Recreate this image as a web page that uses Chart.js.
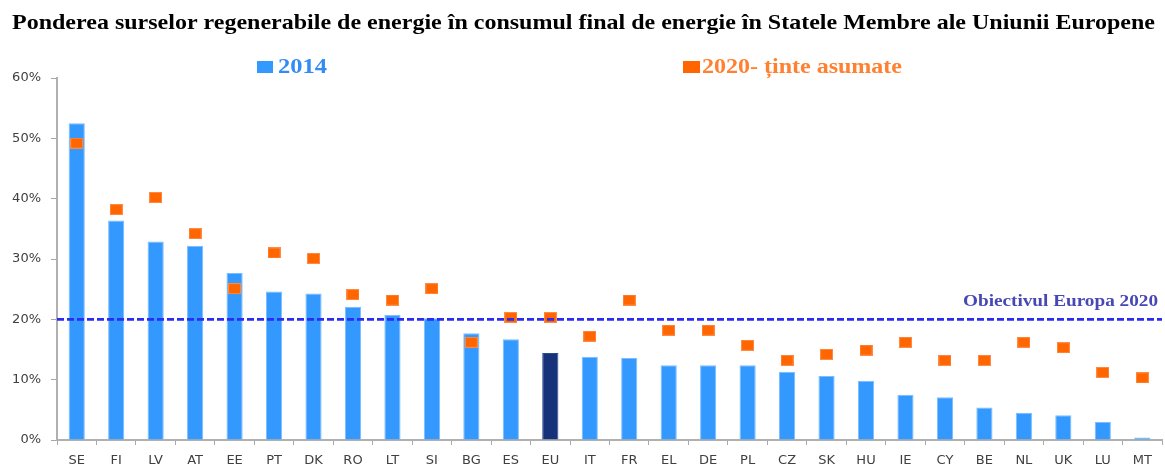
<!DOCTYPE html>
<html lang="ro">
  <head>
    <meta charset="UTF-8" />
    <title>Ponderea surselor regenerabile de energie</title>
    <script src="https://cdn.jsdelivr.net/npm/chart.js"></script>
    <style>
      html,
      body {
        margin: 0;
        padding: 0;
        background: #ffffff;
        overflow: hidden;
      }
      .wrap {
        position: relative;
        width: 1169px;
        height: 472px;
      }
    </style>
  </head>
  <body>
    <div class="wrap">
      <canvas id="chart"></canvas>
    </div>

    <script>
      const countries = ["SE", "FI", "LV", "AT", "EE", "PT", "DK", "RO", "LT", "SI", "BG", "ES", "EU", "IT",
        "FR", "EL", "DE", "PL", "CZ", "SK", "HU", "IE", "CY", "BE", "NL", "UK", "LU", "MT"];
      const share2014 = [52.5, 36.4, 32.9, 32.2, 27.7, 24.6, 24.3, 22.1, 20.7, 20.2, 17.7, 16.7, 14.4, 13.8,
        13.6, 12.4, 12.4, 12.4, 11.3, 10.6, 9.8, 7.5, 7.1, 5.4, 4.5, 4.1, 3.0, 0.4];
      const targets2020 = [49.2, 38.2, 40.2, 34.2, 25.1, 31.0, 30.1, 24.1, 23.2, 25.1, 16.2, 20.3, 20.3, 17.2,
        23.2, 18.2, 18.2, 15.7, 13.2, 14.2, 14.9, 16.2, 13.2, 13.2, 16.2, 15.3, 11.2, 10.3];
      const yTicks = [0, 10, 20, 30, 40, 50, 60];
      const europeTarget = 20;

      const titleText =
        "Ponderea surselor regenerabile de energie în consumul final de energie în Statele Membre ale Uniunii Europene";
      const legend2014 = "2014";
      const legend2020 = "2020- ținte asumate";
      const targetLabel = "Obiectivul Europa 2020";

      const BLUE = "#3399ff";
      const NAVY = "#15327a";
      const ORANGE = "#ff6600";

      // barele: EU in albastru inchis
      const barColors = countries.map((c) => (c === "EU" ? NAVY : BLUE));
      const barBorders = countries.map((c) => (c === "EU" ? "#2a4a90" : "#7cbcff"));

      // marker dreptunghiular pentru tinte
      const marker = document.createElement("canvas");
      marker.width = 13;
      marker.height = 11;
      const mctx = marker.getContext("2d");
      mctx.fillStyle = "#ff8a45";
      mctx.fillRect(0, 0, 13, 11);
      mctx.fillStyle = ORANGE;
      mctx.fillRect(1, 1, 11, 9);

      function stretchText(ctx, text, x, y, width, font, color) {
        ctx.save();
        ctx.font = font;
        const w = ctx.measureText(text).width;
        ctx.translate(x, y);
        ctx.scale(width / w, 1);
        ctx.fillStyle = color;
        ctx.textAlign = "left";
        ctx.textBaseline = "alphabetic";
        ctx.fillText(text, 0, 0);
        ctx.restore();
      }

      const decor = {
        id: "decor",
        afterDatasetsDraw(chart) {
          const { ctx, chartArea, scales } = chart;
          const y = scales.y.getPixelForValue(europeTarget);
          ctx.save();
          ctx.strokeStyle = "#2b2bf2";
          ctx.lineWidth = 2.6;
          ctx.setLineDash([7, 3]);
          ctx.beginPath();
          ctx.moveTo(chartArea.left, y);
          ctx.lineTo(chartArea.right, y);
          ctx.stroke();
          ctx.restore();
          stretchText(ctx, targetLabel, 963, y - 13, 195, "bold 16px 'Liberation Serif'", "#4848b4");
        },
        afterDraw(chart) {
          const ctx = chart.ctx;
          stretchText(ctx, titleText, 12, 29, 1143, "bold 21px 'Liberation Serif'", "#000000");

          ctx.save();
          ctx.fillStyle = BLUE;
          ctx.fillRect(257, 61, 16, 12);
          ctx.fillStyle = ORANGE;
          ctx.fillRect(683, 61, 17, 12);
          ctx.restore();
          stretchText(ctx, legend2014, 278, 73, 49, "bold 20px 'Liberation Serif'", "#338cf5");
          stretchText(ctx, legend2020, 702, 73, 200, "bold 20px 'Liberation Serif'", "#ff8030");
        },
      };

      const ctx = document.getElementById("chart").getContext("2d");
      new Chart(ctx, {
        data: {
          labels: countries,
          datasets: [
            {
              type: "line",
              label: legend2020,
              data: targets2020,
              showLine: false,
              pointStyle: marker,
              pointRadius: 6,
              order: 0,
            },
            {
              type: "bar",
              label: legend2014,
              data: share2014,
              backgroundColor: barColors,
              borderColor: barBorders,
              borderWidth: 1,
              barPercentage: 0.41,
              categoryPercentage: 1,
              order: 1,
            },
          ],
        },
        options: {
          responsive: true,
          maintainAspectRatio: false,
          animation: false,
          layout: { padding: { top: 78, left: 0, right: 0, bottom: 0 } },
          plugins: {
            legend: { display: false },
            title: { display: false },
            tooltip: { enabled: false },
          },
          scales: {
            x: {
              offset: true,
              grid: {
                offset: true,
                drawOnChartArea: false,
                drawTicks: true,
                tickLength: 5,
                tickColor: "#a8a8a8",
              },
              border: { display: true, color: "#b0b0b0", width: 2 },
              ticks: {
                autoSkip: false,
                maxRotation: 0,
                padding: 8,
                color: "#404040",
                font: { family: "'DejaVu Sans'", size: 13 },
              },
              afterFit(scale) {
                scale.height = 32;
              },
            },
            y: {
              min: yTicks[0],
              max: yTicks[yTicks.length - 1],
              afterBuildTicks(scale) {
                scale.ticks = yTicks.map((v) => ({ value: v }));
              },
              grid: {
                drawOnChartArea: false,
                drawTicks: true,
                tickLength: 6,
                tickColor: "#a8a8a8",
              },
              border: { display: true, color: "#b0b0b0", width: 2 },
              ticks: {
                padding: 10,
                color: "#404040",
                font: { family: "'DejaVu Sans'", size: 13 },
                callback: (v) => v + "%",
              },
              afterFit(scale) {
                scale.width = 57;
              },
            },
          },
        },
        plugins: [decor],
      });
    </script>
  </body>
</html>
